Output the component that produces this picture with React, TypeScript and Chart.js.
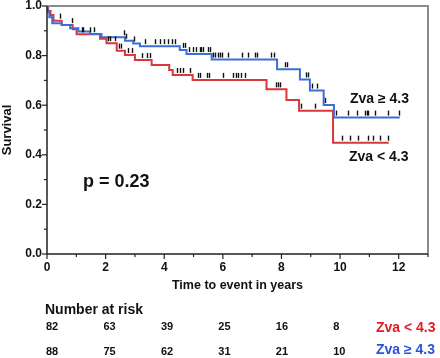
import React, { useEffect, useRef } from "react";
import { Chart, registerables } from "chart.js";

Chart.register(...registerables);

// Kaplan-Meier step points (time in years, survival after the event)
const lowTimes = [0, 0.04, 0.12, 0.22, 0.5, 0.875, 1.01, 1.81, 2.03, 2.38, 2.66, 3.0, 3.57, 4.17, 4.29, 4.97, 7.49, 8.17, 8.6, 9.76, 11.66];
const lowSurv = [1.0, 0.98, 0.964, 0.941, 0.923, 0.906, 0.886, 0.868, 0.85, 0.82, 0.802, 0.782, 0.762, 0.742, 0.722, 0.702, 0.664, 0.621, 0.578, 0.449, 0.449];

const highTimes = [0, 0.02, 0.08, 0.18, 0.5, 0.79, 1.07, 1.47, 1.86, 2.66, 2.94, 3.17, 4.53, 4.76, 5.62, 7.85, 8.63, 8.97, 9.44, 9.79, 12.04];
const highSurv = [1.0, 0.975, 0.955, 0.93, 0.923, 0.91, 0.897, 0.887, 0.874, 0.86, 0.849, 0.838, 0.823, 0.806, 0.784, 0.745, 0.704, 0.659, 0.601, 0.55, 0.55];

// censored observations (time in years)
const lowCensor = [0.44, 0.84, 1.18, 1.24, 1.46, 1.6, 2.09, 2.15, 2.32, 2.45, 2.52, 2.77, 2.89, 3.23, 3.4, 3.53, 4.42, 4.53, 4.63, 4.88, 5.16, 5.22, 5.47, 5.54, 6.01, 6.36, 6.45, 6.53, 6.61, 6.75, 7.83, 7.89, 7.95, 8.66, 9.14, 10.05, 10.34, 10.62, 10.96, 11.13, 11.36, 11.62];
const highCensor = [2.62, 2.69, 2.96, 3.34, 3.68, 3.85, 3.99, 4.14, 4.25, 4.36, 4.65, 4.72, 4.85, 4.99, 5.1, 5.22, 5.27, 5.33, 5.5, 5.56, 5.67, 5.74, 5.82, 5.9, 5.98, 6.18, 6.64, 6.87, 7.09, 7.15, 7.66, 7.74, 8.12, 8.2, 8.84, 8.91, 9.05, 9.2, 9.5, 9.86, 10.28, 10.57, 10.85, 10.91, 10.96, 11.19, 11.64, 12.01];

const xTicks = [0, 2, 4, 6, 8, 10, 12];
const yTicks = [0, 0.2, 0.4, 0.6, 0.8, 1.0];
const xMax = 13;

const riskTimes = [0, 2, 4, 6, 8, 10];
const riskLow = [82, 63, 39, 25, 16, 8];
const riskHigh = [88, 75, 62, 31, 21, 10];

const lowLabel = "Zva < 4.3";
const highLabel = "Zva \u2265 4.3";
const pLabel = "p = 0.23";
const yTitle = "Survival";
const xTitle = "Time to event in years";
const riskTitle = "Number at risk";

const RED_LINE = "#d9363e";
const BLUE_LINE = "#3b6fd8";
const RED_TEXT = "#e31b23";
const BLUE_TEXT = "#2a52e0";
const FONT = "Arial, 'Liberation Sans', sans-serif";

function survAt(times: number[], surv: number[], t: number) {
  let s = surv[0];
  for (let i = 0; i < times.length; i++) {
    if (times[i] <= t) s = surv[i];
  }
  return s;
}

const kmPlugin = {
  id: "kmDecor",
  afterDraw(chart: any) {
    const { ctx, chartArea: a } = chart;
    const x = chart.scales.x;
    const y = chart.scales.y;
    ctx.save();

    // censor marks
    const drawCensor = (times: number[], surv: number[], cens: number[]) => {
      ctx.strokeStyle = "#111";
      ctx.lineWidth = 1.4;
      cens.forEach((t) => {
        const px = Math.round(x.getPixelForValue(t)) + 0.5;
        const py = y.getPixelForValue(survAt(times, surv, t));
        ctx.beginPath();
        ctx.moveTo(px, py - 7);
        ctx.lineTo(px, py - 2);
        ctx.stroke();
      });
    };
    drawCensor(highTimes, highSurv, highCensor);
    drawCensor(lowTimes, lowSurv, lowCensor);

    // frame
    ctx.strokeStyle = "#8c8c8c";
    ctx.lineWidth = 2;
    ctx.beginPath();
    ctx.moveTo(a.left, a.top);
    ctx.lineTo(a.right, a.top);
    ctx.lineTo(a.right, a.bottom);
    ctx.stroke();

    ctx.strokeStyle = "#222";
    ctx.lineWidth = 1.5;
    ctx.beginPath();
    ctx.moveTo(a.left, a.top);
    ctx.lineTo(a.left, a.bottom);
    ctx.lineTo(a.right, a.bottom);
    ctx.stroke();

    // tick marks
    ctx.lineWidth = 1.2;
    for (let v = 0; v <= xMax; v++) {
      const len = v % 2 === 0 ? 5 : 3;
      const px = x.getPixelForValue(v);
      ctx.beginPath();
      ctx.moveTo(px, a.bottom);
      ctx.lineTo(px, a.bottom + len);
      ctx.stroke();
    }
    for (let k = 0; k <= 10; k++) {
      const len = k % 2 === 0 ? 5 : 3;
      const py = y.getPixelForValue(k / 10);
      ctx.beginPath();
      ctx.moveTo(a.left, py);
      ctx.lineTo(a.left - len, py);
      ctx.stroke();
    }

    // texts
    ctx.fillStyle = "#111";
    ctx.textBaseline = "alphabetic";

    // y title
    ctx.save();
    ctx.font = `bold 13px ${FONT}`;
    ctx.translate(10.5, (a.top + a.bottom) / 2);
    ctx.rotate(-Math.PI / 2);
    ctx.textAlign = "center";
    ctx.fillText(yTitle, 0, 0);
    ctx.restore();

    // x title
    ctx.font = `bold 12.5px ${FONT}`;
    ctx.textAlign = "center";
    ctx.fillText(xTitle, (a.left + a.right) / 2, 289);

    // annotations
    ctx.textAlign = "left";
    ctx.font = `bold 18px ${FONT}`;
    ctx.fillText(pLabel, 83, 187);
    ctx.font = `bold 14px ${FONT}`;
    ctx.fillText(highLabel, 350, 103);
    ctx.fillText(lowLabel, 349, 160.5);

    // number at risk table
    ctx.font = `bold 14px ${FONT}`;
    ctx.fillText(riskTitle, 45, 314);
    ctx.font = `bold 11px ${FONT}`;
    const x0 = x.getPixelForValue(0);
    riskTimes.forEach((t, i) => {
      const px = x0 + (x.getPixelForValue(t) - x0) * 0.98 - 1;
      ctx.fillText(String(riskLow[i]), px, 330);
      ctx.fillText(String(riskHigh[i]), px, 355);
    });
    ctx.font = `bold 14px ${FONT}`;
    ctx.fillStyle = RED_TEXT;
    ctx.fillText(lowLabel, 376, 331.5);
    ctx.fillStyle = BLUE_TEXT;
    ctx.fillText(highLabel, 376, 353.5);

    ctx.restore();
  },
};

export default function App() {
  const ref = useRef<HTMLCanvasElement | null>(null);

  useEffect(() => {
    if (!ref.current) return;
    const toPts = (ts: number[], ss: number[]) => ts.map((t, i) => ({ x: t, y: ss[i] }));
    const tickFont = { family: FONT, size: 12, weight: "bold" as const };
    const chart = new Chart(ref.current, {
      type: "line",
      data: {
        datasets: [
          {
            label: highLabel,
            data: toPts(highTimes, highSurv),
            borderColor: BLUE_LINE,
            borderWidth: 2,
            pointRadius: 0,
            stepped: "before",
            fill: false,
          },
          {
            label: lowLabel,
            data: toPts(lowTimes, lowSurv),
            borderColor: RED_LINE,
            borderWidth: 2,
            pointRadius: 0,
            stepped: "before",
            fill: false,
          },
        ],
      },
      options: {
        animation: false,
        responsive: false,
        layout: { padding: { left: 0, right: 12, top: 6, bottom: 0 } },
        plugins: { legend: { display: false }, tooltip: { enabled: false } },
        scales: {
          x: {
            type: "linear",
            min: 0,
            max: xMax,
            grid: { display: false, drawTicks: false },
            border: { display: false },
            afterBuildTicks: (s: any) => {
              s.ticks = xTicks.map((v) => ({ value: v }));
            },
            afterFit: (s: any) => {
              s.height = 104;
              s.paddingLeft = 0;
              s.paddingRight = 0;
            },
            ticks: {
              font: tickFont,
              color: "#111",
              padding: 6,
              maxRotation: 0,
              autoSkip: false,
              callback: (v: any) => String(v),
            },
          },
          y: {
            type: "linear",
            min: 0,
            max: 1,
            grid: { display: false, drawTicks: false },
            border: { display: false },
            afterBuildTicks: (s: any) => {
              s.ticks = yTicks.map((v) => ({ value: v }));
            },
            afterFit: (s: any) => {
              s.width = 47;
              s.paddingTop = 0;
              s.paddingBottom = 0;
            },
            ticks: {
              font: tickFont,
              color: "#111",
              padding: 5,
              autoSkip: false,
              callback: (v: any) => Number(v).toFixed(1),
            },
          },
        },
      },
      plugins: [kmPlugin],
    });
    return () => chart.destroy();
  }, []);

  return (
    <div style={{ position: "absolute", left: 0, top: 0, width: 440, height: 358, background: "#fff" }}>
      <canvas ref={ref} width={440} height={358} style={{ display: "block" }} />
    </div>
  );
}
